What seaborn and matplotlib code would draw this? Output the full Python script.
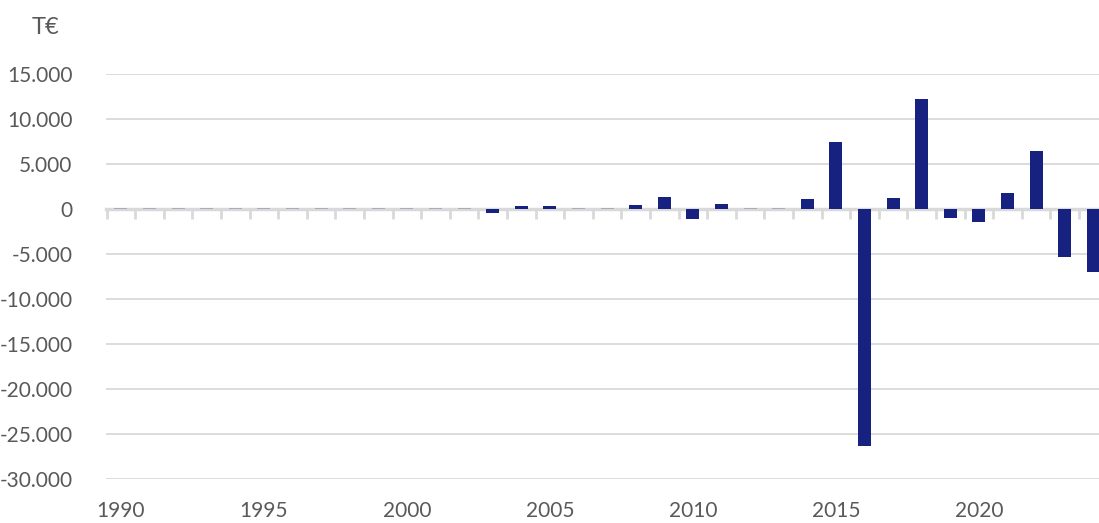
import numpy as np
import matplotlib
matplotlib.use("Agg")
import matplotlib.pyplot as plt
import seaborn as sns
from matplotlib.ticker import FuncFormatter, FixedLocator

# Data (T€ per year)
years = list(range(1990, 2025))
values = [
    80, 80, 80, 80, 80, 80, 80, 80, 80, 80,      # 1990-1999
    80, 80, 80, -500, 300, 300, 80, 80, 400, 1350,  # 2000-2009
    -1150, 550, 80, 80, 1100, 7450, -26300, 1250, 12200, -1050,  # 2010-2019
    -1500, 1800, 6450, -5300, -6950,             # 2020-2024
]
label_years = [1990, 1995, 2000, 2005, 2010, 2015, 2020]
y_ticks = [15000, 10000, 5000, 0, -5000, -10000, -15000, -20000, -25000, -30000]

bar_color = "#172280"
grid_color = "#d9d9d9"
text_color = "#595959"

sns.set_style("white")
plt.rcParams["font.family"] = ["Lato", "DejaVu Sans"]

fig = plt.figure(figsize=(10.99, 5.23), dpi=100)
ax = fig.add_axes([106 / 1099, 44 / 523, 1 - 106 / 1099, 405 / 523])

sns.barplot(x=years, y=values, color=bar_color, saturation=1, width=0.45, ax=ax)
for p in ax.patches:
    p.set_edgecolor("none")
    p.set_zorder(5)
    if abs(p.get_height()) < 100:
        p.set_alpha(0.25)

ax.set_ylim(-30000, 15000)
ax.set_xlim(-0.52, 34.2)
ax.set_yticks(y_ticks)
ax.yaxis.set_major_formatter(FuncFormatter(lambda v, _: f"{int(v):,}".replace(",", ".")))
ax.tick_params(axis="y", length=0, pad=24, labelsize=15, labelcolor=text_color)
ax.yaxis.grid(True, color=grid_color, linewidth=1.3)
ax.set_axisbelow(True)

for s in ["left", "right", "top"]:
    ax.spines[s].set_visible(False)

# zero axis line with category separator ticks
ax.spines["bottom"].set_position(("data", 0))
ax.spines["bottom"].set_color(grid_color)
ax.spines["bottom"].set_linewidth(2.5)
bounds = np.arange(len(years) + 1) - 0.5
ax.xaxis.set_major_locator(FixedLocator(bounds))
ax.tick_params(axis="x", bottom=True, length=7, width=2, color=grid_color,
               labelbottom=False, direction="out")
ax.set_xlabel("")

# year labels at the bottom
sec = ax.secondary_xaxis("bottom")
sec.set_xticks([years.index(y) for y in label_years])
sec.set_xticklabels([str(y) for y in label_years])
sec.tick_params(bottom=False, length=0, pad=16, labelsize=15, labelcolor=text_color)
sec.spines["bottom"].set_visible(False)

fig.text(45 / 1099, 1 - 28 / 523, "T€", fontsize=17, color=text_color, ha="center", va="center")

plt.savefig("out.png", dpi=100)
